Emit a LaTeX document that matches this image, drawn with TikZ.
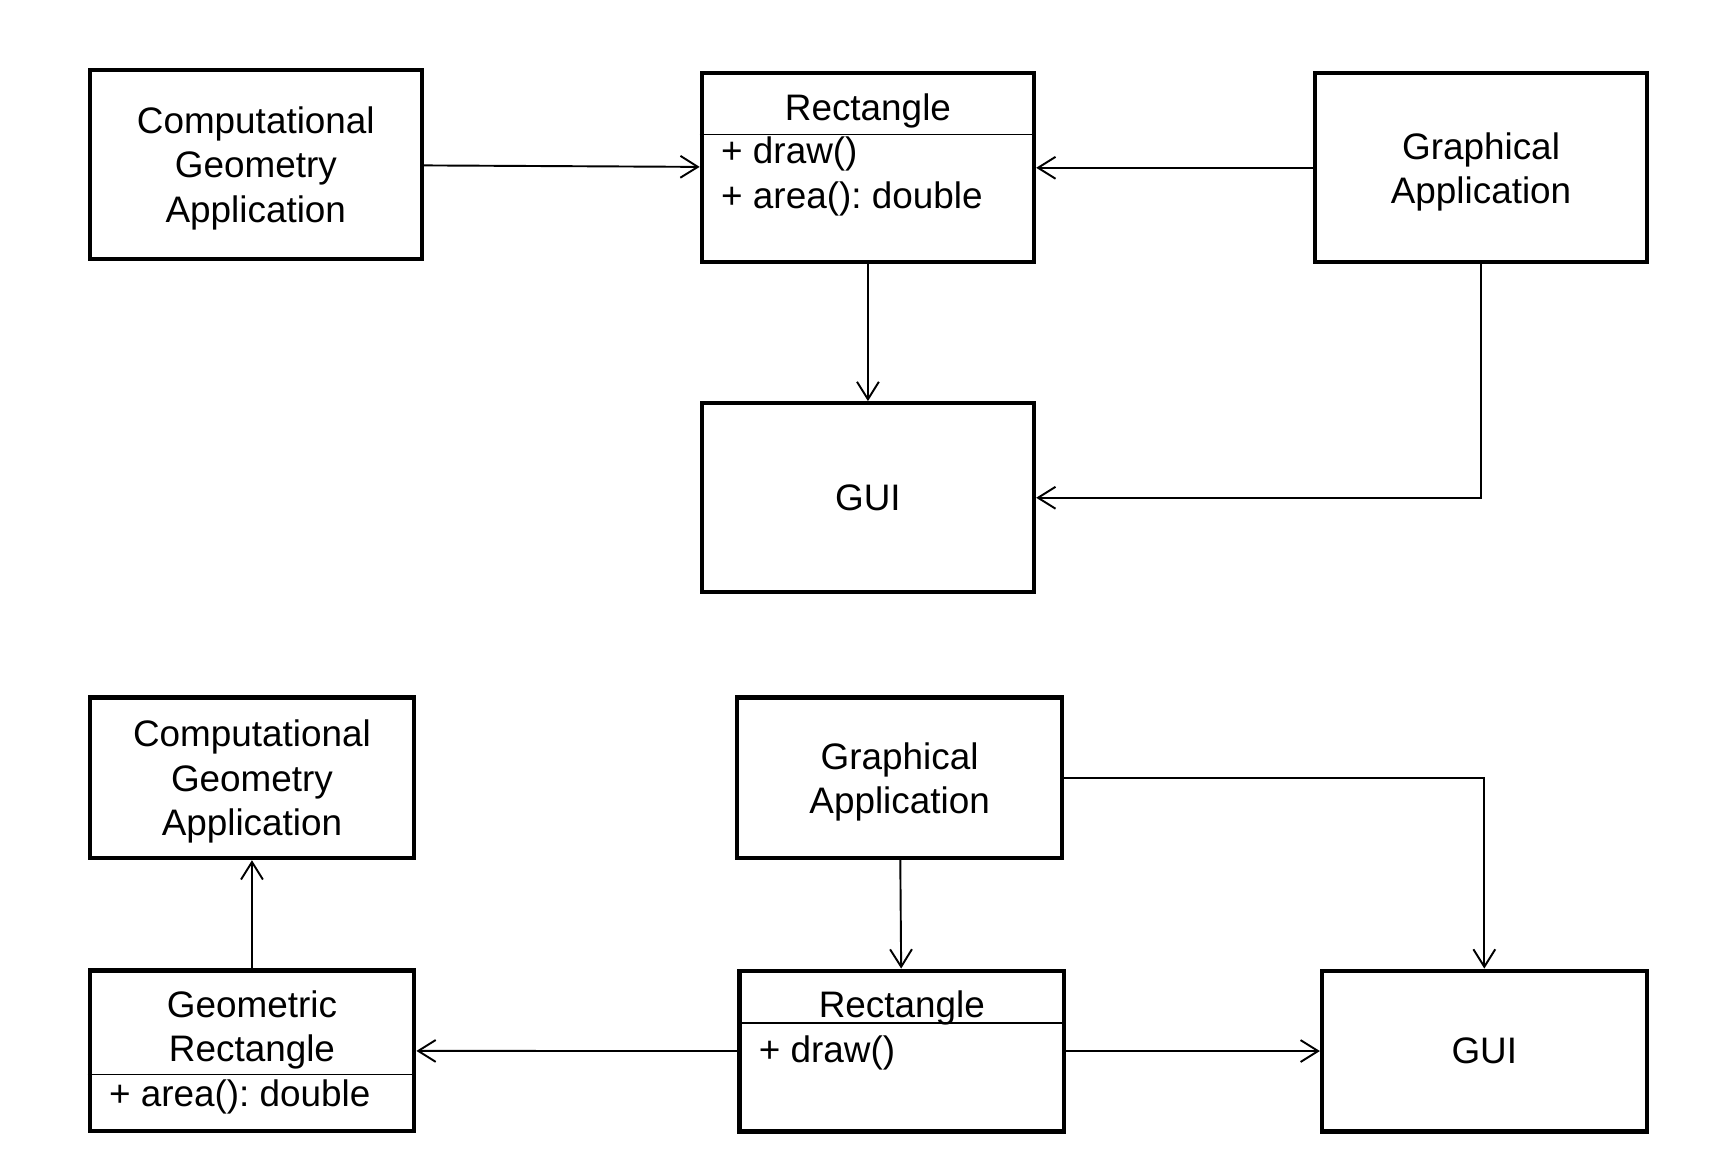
\documentclass[tikz,border=0pt]{standalone}
\usepackage{fontspec}
\setmainfont{Liberation Sans}
\usetikzlibrary{positioning,calc,arrows.meta}

\tikzset{
	box/.style={draw, line width=1.1pt, minimum width=3.04cm, minimum height=1.73cm, align=center, inner sep=0pt, text depth=0pt},
	low box/.style={box, minimum width=2.97cm, minimum height=1.47cm},
	member/.style={anchor=west, inner sep=0pt},
	divider/.style={line width=0.4pt},
	link/.style={line width=0.5pt, -{Straight Barb[length=1.6mm,width=2mm]}},
}

\begin{document}
\begin{tikzpicture}[font=\fontsize{9.6}{11.5}\selectfont\frenchspacing]
	\useasboundingbox (0,0) rectangle (15.68,-10.74);
	% first design
	\node[box] (rect1) at (7.94,-1.535) {};
	\node (rect1 name) at ([yshift=-0.36cm]rect1.north) {Rectangle};
	\draw[divider] ([yshift=-0.58cm]rect1.north west) -- ([yshift=-0.58cm]rect1.north east);
	\node[member] (rect1 draw) at ([xshift=0.19cm,yshift=-0.76cm]rect1.north west) {+ draw()};
	\node[member] (rect1 area) at ([xshift=0.19cm,yshift=-1.17cm]rect1.north west) {+ area(): double};
	\node[box] (cga1) at (2.34,-1.505) {Computational\\Geometry\\Application};
	\node[box, right=2.53cm of rect1] (ga1) {Graphical\\Application};
	\node[box, below=1.25cm of rect1] (gui1) {GUI};
	%
	\draw[link] (cga1) -- (rect1);
	\draw[link] (ga1) -- (rect1);
	\draw[link] (rect1) -- (gui1);
	\draw[link] (ga1) |- (gui1);
	% second design
	\node[low box] (cga2) at (2.305,-7.115) {Computational\\Geometry\\Application};
	\node[low box, below=0.99cm of cga2] (georect) {};
	\node[align=center, text depth=0pt] (georect name) at ([yshift=-0.53cm]georect.north) {Geometric\\Rectangle};
	\draw[divider] ([yshift=-0.97cm]georect.north west) -- ([yshift=-0.97cm]georect.north east);
	\node[member] (georect area) at ([xshift=0.19cm,yshift=-1.18cm]georect.north west) {+ area(): double};
	\node[low box] (ga2) at (8.23,-7.115) {Graphical\\Application};
	\node[low box] (rect2) at (8.25,-9.615) {};
	\node (rect2 name) at ([yshift=-0.36cm]rect2.north) {Rectangle};
	\draw[divider] ([yshift=-0.50cm]rect2.north west) -- ([yshift=-0.50cm]rect2.north east);
	\node[member] (rect2 draw) at ([xshift=0.19cm,yshift=-0.77cm]rect2.north west) {+ draw()};
	\node[low box, right=2.32cm of rect2] (gui2) {GUI};
	%
	\draw[link] (georect) -- (cga2);
	\draw[link] (ga2) -- (rect2);
	\draw[link] (rect2) -- (georect);
	\draw[link] (rect2) -- (gui2);
	\draw[link] (ga2) -| (gui2);
\end{tikzpicture}
\end{document}
